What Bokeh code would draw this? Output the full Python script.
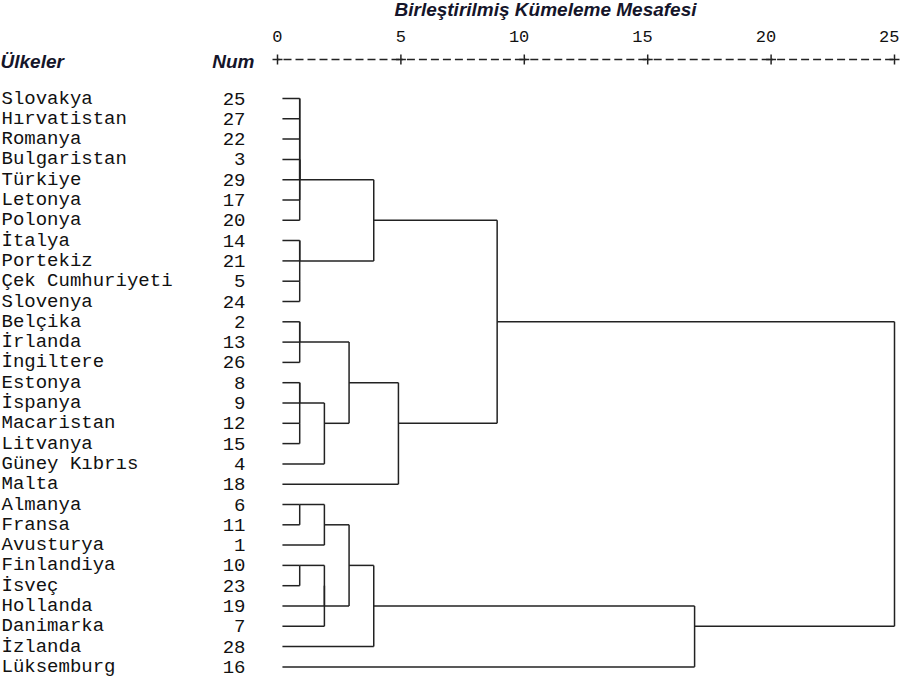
import math
from bokeh.plotting import figure
from bokeh.models import Range1d
from bokeh.core.properties import value
from bokeh.embed import file_html
from bokeh.resources import INLINE

# ---------------- data ----------------
countries = ["Slovakya", "Hırvatistan", "Romanya", "Bulgaristan", "Türkiye", "Letonya",
             "Polonya", "İtalya", "Portekiz", "Çek Cumhuriyeti", "Slovenya", "Belçika",
             "İrlanda", "İngiltere", "Estonya", "İspanya", "Macaristan", "Litvanya",
             "Güney Kıbrıs", "Malta", "Almanya", "Fransa", "Avusturya", "Finlandiya",
             "İsveç", "Hollanda", "Danimarka", "İzlanda", "Lüksemburg"]
case_numbers = [25, 27, 22, 3, 29, 17, 20, 14, 21, 5, 24, 2, 13, 26, 8, 9, 12, 15, 4,
                18, 6, 11, 1, 10, 23, 19, 7, 28, 16]

# linkage (clusters 0..28 are the leaves, merge k creates cluster 29+k)
merge_a = [0, 29, 3, 31, 30, 33, 7, 9, 35, 34, 11, 39, 14, 16, 41, 43, 40, 45, 38,
           20, 48, 23, 50, 51, 49, 53, 54, 47]
merge_b = [1, 2, 4, 5, 32, 6, 8, 10, 36, 37, 12, 13, 15, 17, 42, 18, 44, 19, 46,
           21, 22, 24, 25, 26, 52, 27, 28, 55]
merge_dist = [0.9, 0.9, 0.9, 0.9, 0.9, 0.9, 0.9, 0.9, 0.9, 3.9, 0.9, 0.9, 0.9, 0.9,
              0.9, 1.9, 2.9, 4.9, 8.9, 0.9, 1.9, 0.9, 1.9, 1.9, 2.9, 3.9, 16.9, 25.0]

tick_values = [0, 5, 10, 15, 20, 25]
tick_labels = ["0", "5", "10", "15", "20", "25"]
axis_title = "Birleştirilmiş Kümeleme Mesafesi"
header_countries = "Ülkeler"
header_num = "Num"

# ---------------- layout ----------------
W, H = 900, 681
PX_PER_UNIT = 24.68
X0 = 277.0          # canvas x of distance 0
ROW0 = 98.0         # canvas y of first row
ROW_H = 20.3        # row pitch
LEAF_START = 0.2

def cx(px):
    return (px - X0) / PX_PER_UNIT

def cy(py):
    return (py - ROW0) / ROW_H

p = figure(width=W, height=H,
           x_range=Range1d(cx(0), cx(W)),
           y_range=Range1d(cy(H), cy(0)),
           output_backend="svg", toolbar_location=None,
           x_axis_location=None, y_axis_location=None,
           min_border=0)
p.min_border_left = p.min_border_right = p.min_border_top = p.min_border_bottom = 0
p.outline_line_color = None
p.grid.visible = False
p.background_fill_color = "white"
p.border_fill_color = "white"

LINE = "#222222"
MONO = value("Liberation Mono")
SANS = value("Liberation Sans")

# ---------------- dendrogram geometry from linkage ----------------
n = len(countries)
row = {i: i for i in range(n)}
height = {i: LEAF_START for i in range(n)}
x0s, y0s, x1s, y1s = [], [], [], []
for k, (a, b, d) in enumerate(zip(merge_a, merge_b, merge_dist)):
    for c in (a, b):
        if d > height[c]:
            x0s.append(height[c]); y0s.append(row[c]); x1s.append(d); y1s.append(row[c])
    x0s.append(d); y0s.append(row[a]); x1s.append(d); y1s.append(row[b])
    new = n + k
    row[new] = math.floor((row[a] + row[b]) / 2)
    height[new] = d

p.segment(x0=x0s, y0=y0s, x1=x1s, y1=y1s, line_color=LINE, line_width=1.5)

# ---------------- labels ----------------
p.text(x=[cx(1)] * n, y=list(range(n)), text=countries, text_font=MONO,
       text_font_size="19px", text_baseline="middle", text_align="left",
       text_color="#111111")
p.text(x=[cx(245)] * n, y=list(range(n)), text=[str(v) for v in case_numbers],
       text_font=MONO, text_font_size="19px", text_baseline="middle",
       text_align="right", text_color="#111111")

header_row = cy(61)
p.text(x=[cx(0)], y=[header_row], text=[header_countries], text_font=SANS,
       text_font_style="bold italic", text_font_size="19px",
       text_baseline="middle", text_align="left", text_color="#15152a")
p.text(x=[cx(254)], y=[header_row], text=[header_num], text_font=SANS,
       text_font_style="bold italic", text_font_size="19px",
       text_baseline="middle", text_align="right", text_color="#15152a")

# ---------------- distance scale ----------------
axis_row = cy(59)
nt = len(tick_values)
p.segment(x0=tick_values[:-1], y0=[axis_row] * (nt - 1),
          x1=tick_values[1:], y1=[axis_row] * (nt - 1),
          line_color=LINE, line_width=1.3, line_dash="8 4", line_dash_offset=-6)
p.scatter(x=tick_values, y=[axis_row] * nt, marker="cross", size=10,
          line_color=LINE, line_width=1.5)
p.text(x=tick_values, y=[cy(36)] * nt, text=tick_labels, text_font=MONO,
       text_font_size="17px", text_baseline="middle", text_align="right",
       x_offset=5, text_color="#111111")
p.text(x=[cx(545)], y=[cy(9)], text=[axis_title], text_font=SANS,
       text_font_style="bold italic", text_font_size="19px",
       text_baseline="middle", text_align="center", text_color="#15152a")

open("out.html", "w").write(file_html(p, INLINE))
